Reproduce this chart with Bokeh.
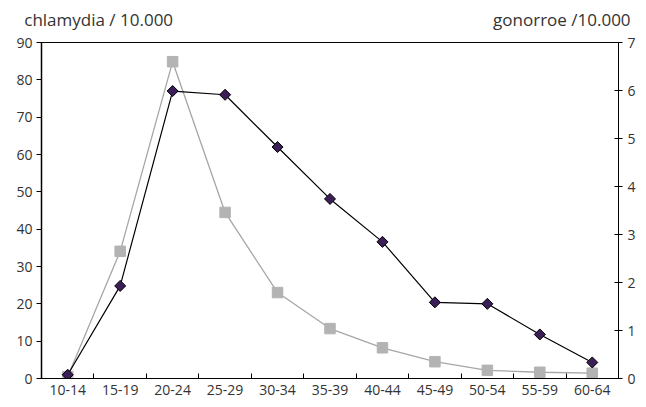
import math
from bokeh.plotting import figure
from bokeh.models import (LinearAxis, Range1d, FixedTicker, ColumnDataSource)
from bokeh.embed import file_html
from bokeh.resources import INLINE

categories = ["10-14", "15-19", "20-24", "25-29", "30-34", "35-39",
              "40-44", "45-49", "50-54", "55-59", "60-64"]
chlamydia = [1.0, 24.8, 77.0, 76.0, 62.0, 48.1, 36.6, 20.4, 20.0, 11.8, 4.3]
gonorroe = [0.04, 2.65, 6.6, 3.46, 1.79, 1.04, 0.64, 0.35, 0.17, 0.13, 0.11]
left_ticks = [0, 10, 20, 30, 40, 50, 60, 70, 80, 90]
right_ticks = [0, 1, 2, 3, 4, 5, 6, 7]
header_left = "chlamydia / 10.000"
header_right = "gonorroe /10.000"

FONT = "Open Sans"
TXT = "#333333"

xs = [i + 0.5 for i in range(len(categories))]
src = ColumnDataSource(dict(x=xs, c=chlamydia, g=gonorroe))

p = figure(width=642, height=397, output_backend="svg", toolbar_location=None,
           x_range=Range1d(0, len(categories)), y_range=Range1d(0, 90),
           min_border_left=41, min_border_top=42, min_border_right=24,
           min_border_bottom=10)
p.extra_y_ranges = {"right": Range1d(0, 7)}
p.grid.visible = False
p.outline_line_color = "black"
p.outline_line_width = 1
p.background_fill_color = "white"
p.border_fill_color = "white"

# bottom axis: labels at centers, ticks at boundaries
xa = p.xaxis[0]
xa.ticker = FixedTicker(ticks=xs, minor_ticks=list(range(len(categories) + 1)))
xa.major_label_overrides = {x: c for x, c in zip(xs, categories)}
xa.major_tick_in = 0
xa.major_tick_out = 0
xa.minor_tick_in = 5
xa.minor_tick_out = 0
xa.minor_tick_line_color = "black"
xa.axis_line_color = "black"
xa.major_label_text_font = FONT
xa.major_label_text_font_size = "14px"
xa.major_label_text_color = TXT
xa.major_label_standoff = 6

ya = p.yaxis[0]
ya.ticker = FixedTicker(ticks=left_ticks)
ya.major_tick_in = 0
ya.major_tick_out = 5
ya.minor_tick_line_color = None
ya.axis_line_color = "black"
ya.axis_line_width = 1.5
ya.major_label_text_font = FONT
ya.major_label_text_font_size = "14px"
ya.major_label_text_color = TXT
ya.major_label_standoff = 4

ra = LinearAxis(y_range_name="right", ticker=FixedTicker(ticks=right_ticks))
ra.major_tick_in = 4
ra.major_tick_out = 4
ra.minor_tick_line_color = None
ra.axis_line_color = "black"
ra.major_label_text_font = FONT
ra.major_label_text_font_size = "14px"
ra.major_label_text_color = TXT
ra.major_label_standoff = 5
p.add_layout(ra, "right")

# header texts as labels of a bare axis above the frame
hx = [1.09, 9.92]
ta = LinearAxis(ticker=FixedTicker(ticks=hx, minor_ticks=[]))
ta.major_label_overrides = {hx[0]: header_left, hx[1]: header_right}
ta.axis_line_color = None
ta.major_tick_line_color = None
ta.minor_tick_line_color = None
ta.major_tick_in = 0
ta.major_tick_out = 0
ta.major_label_text_font = FONT
ta.major_label_text_font_size = "17px"
ta.major_label_text_color = TXT
ta.major_label_standoff = 12
p.add_layout(ta, "above")

# gonorroe series (right axis)
p.line("x", "g", source=src, y_range_name="right", line_color="#a6a6a6", line_width=1.3)
p.scatter("x", "g", source=src, y_range_name="right", marker="square", size=10.5,
          fill_color="#b3b3b3", line_color="#b3b3b3")

# chlamydia series (left axis)
p.line("x", "c", source=src, line_color="black", line_width=1.2)
p.scatter("x", "c", source=src, marker="square", size=7.8, angle=math.pi / 4,
          fill_color="#3b1d57", line_color="black", line_width=1)

open("out.html", "w").write(file_html(p, INLINE))
